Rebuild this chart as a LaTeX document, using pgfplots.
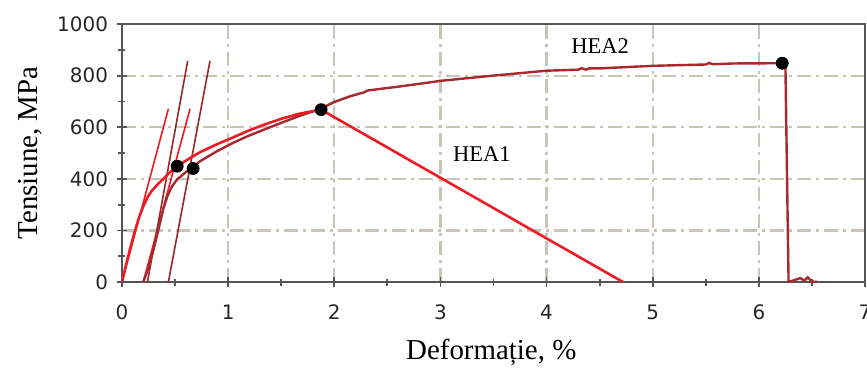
\documentclass[border=0pt]{standalone}
\usepackage{fontspec}
\setmainfont{Liberation Serif}
\newfontfamily\tickfont{DejaVu Sans}
\usepackage{pgfplots}
\pgfplotsset{compat=1.18}
\definecolor{brightred}{RGB}{237,28,36}
\definecolor{darkred}{RGB}{168,40,45}
\definecolor{tanred}{RGB}{150,40,40}
\definecolor{gridc}{RGB}{200,196,184}
\definecolor{framec}{RGB}{85,85,85}
\begin{document}
\begin{tikzpicture}
\begin{axis}[
  name=ax,
  scale only axis,
  width=371.5bp, height=129bp,
  xmin=0, xmax=7, ymin=0, ymax=1000,
  xtick={0,1,...,7}, ytick={0,200,...,1000},
  minor x tick num=1, minor y tick num=1,
  xtick pos=bottom, ytick pos=left,
  tick align=center,
  major tick length=5bp, minor tick length=3.5bp,
  every tick/.style={framec, line width=0.9bp},
  axis line style={framec, line width=1.3bp},
  grid=major,
  major grid style={gridc, line width=1.1bp, dash pattern=on 7bp off 2.5bp on 1.5bp off 2.5bp},
  /pgf/number format/assume math mode=true,
  /pgf/number format/1000 sep={},
  ticklabel style={font=\tickfont\fontsize{10}{12}\selectfont, text=black!85},
  xticklabel style={yshift=-5.5bp},
  yticklabel style={xshift=-1bp},
  xlabel={Deformație, \%},
  ylabel={Tensiune, MPa},
  every axis x label/.style={at={(axis description cs:0.497,-0.2713)}, anchor=center, font=\fontsize{14.5}{17}\selectfont},
  every axis y label/.style={at={(axis description cs:-0.1238,0.5)}, rotate=90, anchor=center, font=\fontsize{14.5}{17}\selectfont},
]
% tangent / offset lines
\addplot[brightred, line width=0.8bp] coordinates {(0,0) (0.437,671)};
\addplot[brightred, line width=0.8bp] coordinates {(0.2,0) (0.641,671)};
\addplot[tanred, line width=0.8bp] coordinates {(0.24,0) (0.619,857)};
\addplot[tanred, line width=0.8bp] coordinates {(0.437,0) (0.829,857)};
% HEA2
\addplot[darkred, line width=1.2bp] coordinates {
(0.2,0) (0.25,55) (0.3,130) (0.35,215) (0.39,285) (0.43,335) (0.47,370)
(0.52,398) (0.6,425) (0.67,446) (0.735,468) (0.9,508) (1.05,540) (1.2,568)
(1.36,594) (1.52,620) (1.68,645)
(1.87,671) (1.99,696) (2.15,720) (2.28,735) (2.31,742) (2.5,752) (2.62,758)
(3.01,780) (3.5,800) (4.0,819) (4.3,823) (4.33,829) (4.37,823) (4.4,828) (4.5,828)
(5.01,838) (5.5,843) (5.53,849) (5.57,844) (5.76,847) (6.22,848) (6.25,848) (6.28,0)
(6.39,15) (6.43,5) (6.46,18) (6.5,2) (6.55,0)};
% HEA1
\addplot[brightred, line width=1.3bp] coordinates {
(0,0) (0.04,70) (0.08,135) (0.12,195) (0.16,250) (0.2,293) (0.24,328)
(0.28,353) (0.33,376) (0.4,404) (0.45,425) (0.52,449) (0.62,475) (0.735,503) (0.9,535)
(1.05,561) (1.2,588) (1.36,613) (1.52,635) (1.68,653) (1.876,668) (4.72,0)};
% markers
\addplot[only marks, mark=*, mark size=3bp, black] coordinates {
(0.52,449) (0.67,440) (1.876,668) (6.22,848)};
\node[font=\fontsize{11.3}{13}\selectfont] at (axis cs:4.505,916) {HEA2};
\node[font=\fontsize{11.3}{13}\selectfont] at (axis cs:3.39,497) {HEA1};
\end{axis}
\pgfresetboundingbox
\path[use as bounding box] ([xshift=-61bp,yshift=-44bp]ax.south west) rectangle ([xshift=1bp,yshift=12bp]ax.north east);
\end{tikzpicture}
\end{document}
